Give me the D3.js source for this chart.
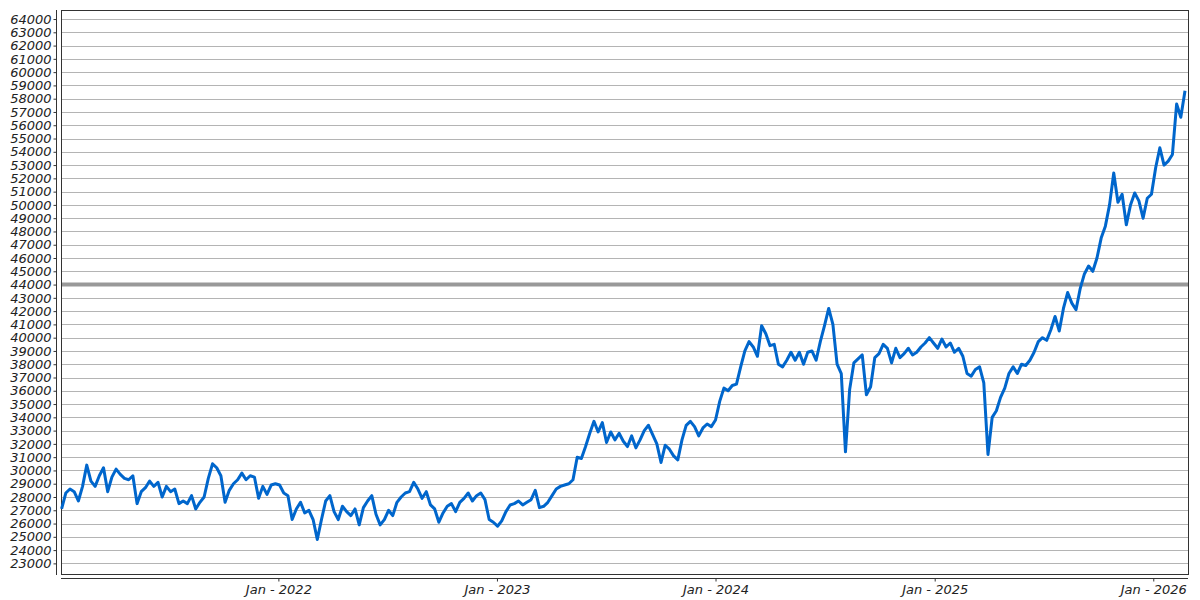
<!DOCTYPE html>
<html>
<head>
<meta charset="utf-8">
<script src="https://cdn.jsdelivr.net/npm/d3@7"></script>
<style>
  body { margin: 0; background: #fff; }
  svg text { font-family: "DejaVu Sans", sans-serif; font-style: italic; font-size: 13px; fill: #222; }
</style>
</head>
<body>
<div id="chart"></div>
<script>
// weekly closes, first week starting 2021-01-04
var startDate = "2021-01-04";
var values = [
  27100, 28300, 28600, 28400, 27700, 28800, 30400, 29200, 28800, 29600,
  30200, 28400, 29500, 30100, 29700, 29400, 29300, 29600, 27500, 28400,
  28700, 29200, 28800, 29100, 28000, 28800, 28400, 28600, 27500, 27700,
  27500, 28100, 27100, 27600, 28000, 29400, 30500, 30200, 29600, 27600,
  28500, 29000, 29300, 29800, 29300, 29600, 29500, 27900, 28800, 28200,
  28900, 29000,
  28900, 28300, 28100, 26300, 27100, 27600, 26800, 27000, 26300, 24800,
  26300, 27700, 28100, 26900, 26300, 27300, 26900, 26600, 27100, 25900,
  27200, 27700, 28100, 26700, 25900, 26300, 27000, 26600, 27600, 28000,
  28300, 28400, 29100, 28600, 27900, 28400, 27400, 27100, 26100, 26800,
  27300, 27500, 26900, 27600, 27900, 28300, 27700, 28100, 28300, 27800,
  26300, 26100,
  25800, 26200, 26900, 27400, 27500, 27700, 27400, 27600, 27800, 28500,
  27200, 27300, 27600, 28100, 28600, 28800, 28900, 29000, 29300, 31000,
  30900, 31800, 32800, 33700, 32900, 33600, 32100, 32900, 32300, 32800,
  32200, 31800, 32600, 31700, 32300, 33000, 33400, 32700, 32000, 30600,
  31900, 31600, 31100, 30800, 32300, 33400, 33700, 33300, 32600, 33200,
  33500, 33300,
  33800, 35200, 36200, 36000, 36400, 36500, 37800, 39000, 39700, 39300,
  38600, 40900, 40300, 39400, 39500, 38000, 37800, 38300, 38900, 38300,
  38900, 38000, 38900, 39000, 38300, 39700, 40900, 42200, 41000, 38000,
  37300, 31400, 36100, 38100, 38400, 38700, 35700, 36300, 38500, 38800,
  39500, 39200, 38100, 39200, 38500, 38800, 39200, 38700, 38900, 39300,
  39600, 40000,
  39600, 39200, 39900, 39300, 39600, 38900, 39200, 38600, 37300, 37100,
  37600, 37800, 36600, 31200, 34000, 34500, 35500, 36200, 37300, 37800,
  37300, 38000, 37900, 38300, 38900, 39700, 40000, 39800, 40600, 41600,
  40500, 42200, 43400, 42600, 42100, 43700, 44800, 45400, 45000, 46000,
  47500, 48400, 50000, 52400, 50200, 50800, 48500, 50000, 50900, 50300,
  49000, 50500,
  50800, 52800, 54300, 53000, 53300, 53800, 57600, 56600, 58600
];
var refLevel = 44000;
var yTicks = d3.range(23000, 64001, 1000);
var xTickYears = [2022, 2023, 2024, 2025, 2026];

var width = 1200, height = 600;
var plot = { left: 61, right: 1188, top: 10, bottom: 574 };

var parse = d3.timeParse("%Y-%m-%d");
var t0 = parse(startDate);
var data = values.map(function(v, i) {
  return { date: d3.timeWeek.offset(t0, i), value: v };
});

var x = d3.scaleTime()
  .domain([parse("2021-01-03"), parse("2026-02-28")])
  .range([plot.left, plot.right]);

var y = d3.scaleLinear()
  .domain([22200, 64680])
  .range([plot.bottom, plot.top]);

var svg = d3.select("#chart").append("svg")
  .attr("width", width)
  .attr("height", height);

// gridlines
svg.append("g")
  .selectAll("line")
  .data(yTicks)
  .enter()
  .append("line")
  .attr("x1", plot.left)
  .attr("x2", plot.right)
  .attr("y1", function(d) { return Math.round(y(d)) + 0.5; })
  .attr("y2", function(d) { return Math.round(y(d)) + 0.5; })
  .attr("stroke", "#b4b4b4")
  .attr("stroke-width", 1);

// reference level
svg.append("line")
  .attr("x1", plot.left)
  .attr("x2", plot.right)
  .attr("y1", y(refLevel))
  .attr("y2", y(refLevel))
  .attr("stroke", "#999")
  .attr("stroke-width", 4);

// frame
svg.append("rect")
  .attr("x", plot.left + 0.5)
  .attr("y", plot.top + 0.5)
  .attr("width", plot.right - plot.left)
  .attr("height", plot.bottom - plot.top)
  .attr("fill", "none")
  .attr("stroke", "#333");

// series
var line = d3.line()
  .x(function(d) { return x(d.date); })
  .y(function(d) { return y(d.value); });

svg.append("path")
  .datum(data)
  .attr("d", line)
  .attr("fill", "none")
  .attr("stroke", "#0066cc")
  .attr("stroke-width", 3)
  .attr("stroke-linejoin", "round");

// y axis
var yAxis = svg.append("g")
  .attr("transform", "translate(56.5,0)")
  .call(d3.axisLeft(y).tickValues(yTicks).tickSize(3).tickPadding(2).tickFormat(d3.format("d")));
yAxis.select(".domain").attr("d", "M0," + plot.top + "V" + (plot.bottom + 1)).attr("stroke", "#333");
yAxis.selectAll(".tick line").attr("stroke", "#333");
yAxis.selectAll("text").style("font-size", "13px").attr("fill", "#222");

// x axis
var xAxis = svg.append("g")
  .attr("transform", "translate(0,578.5)")
  .call(d3.axisBottom(x)
    .tickValues(xTickYears.map(function(yr) { return new Date(yr, 0, 1); }))
    .tickSize(3).tickPadding(3)
    .tickFormat(function(d) { return "Jan - " + d.getFullYear(); }));
xAxis.select(".domain").attr("d", "M" + plot.left + ",0H" + plot.right).attr("stroke", "#333");
xAxis.selectAll(".tick line").attr("stroke", "#333");
xAxis.selectAll("text").style("font-size", "13px").attr("fill", "#222");
</script>
</body>
</html>
